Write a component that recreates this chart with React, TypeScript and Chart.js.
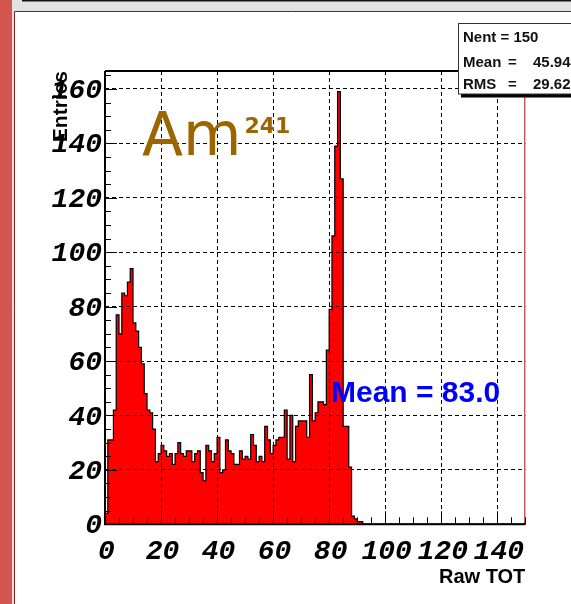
import { useEffect, useRef } from "react";
import { Chart, registerables } from "chart.js";

Chart.register(...registerables);

// Raw TOT spectrum of the Am-241 source, 1-unit bins starting at 0
const binWidth = 1;
const counts = [
  4, 31, 31, 42, 77, 70, 85, 84, 89, 94,
  74, 71, 65, 59, 48, 42, 41, 35, 23, 26,
  29, 27, 25, 26, 22, 26, 30, 26, 25, 27,
  27, 23, 26, 27, 19, 16, 29, 27, 23, 26,
  32, 19, 20, 31, 27, 26, 22, 22, 27, 24,
  25, 24, 33, 29, 23, 25, 23, 36, 31, 26,
  29, 31, 32, 32, 42, 24, 40, 23, 36, 38,
  38, 38, 32, 55, 38, 41, 45, 45, 44, 64,
  79, 106, 139, 159, 127, 36, 36, 21, 3, 2,
  1, 1,
];

const xRange = [0, 150];
const yRange = [0, 166.6];
const xTicks = [0, 20, 40, 60, 80, 100, 120, 140];
const yTicks = [0, 20, 40, 60, 80, 100, 120, 140, 160];
const minorStep = 5;

const xTitle = "Raw TOT";
const yTitle = "Entries";

const statLabels = ["Mean", "RMS"];
const statValues = ["45.94", "29.62"];
const entriesLine = "Nent = 150";

const sourceName = "Am";
const sourceMass = "241";
const peakLabel = "Mean = 83.0";

const tickFont = { family: '"Liberation Mono", monospace', size: 28, style: "italic" as const, weight: "bold" as const };

function histogramPoints() {
  const pts: { x: number; y: number }[] = [{ x: 0, y: 0 }];
  counts.forEach((c, i) => pts.push({ x: i * binWidth, y: c }));
  pts.push({ x: counts.length * binWidth, y: 0 });
  return pts;
}

const isMajor = (v: number, list: number[]) => list.some((t) => Math.abs(t - v) < 1e-6);

const decorations = {
  id: "decorations",
  beforeDraw(chart: any) {
    const { ctx, width, height } = chart;
    ctx.save();
    ctx.fillStyle = "#ffffff";
    ctx.fillRect(0, 0, width, height);
    ctx.fillStyle = "#e2e2e2";
    ctx.fillRect(0, 0, width, 11);
    ctx.fillRect(0, 0, 14, height);
    ctx.fillStyle = "#d4554f";
    ctx.fillRect(0, 0, 12, height);
    ctx.fillStyle = "#151515";
    ctx.fillRect(22, 0, width - 22, 1.5);
    ctx.strokeStyle = "#8b1a1a";
    ctx.lineWidth = 1;
    ctx.beginPath();
    ctx.moveTo(14.5, height);
    ctx.lineTo(14.5, 11.5);
    ctx.lineTo(width, 11.5);
    ctx.stroke();
    ctx.restore();
  },
  afterDraw(chart: any) {
    const { ctx } = chart;
    const { left, right, top, bottom } = chart.chartArea;
    const xs = chart.scales.x;
    const ys = chart.scales.y;
    ctx.save();

    // frame
    ctx.strokeStyle = "#b01010";
    ctx.lineWidth = 1;
    ctx.strokeRect(left + 0.5, top + 0.5, right - left - 1, bottom - top - 1);
    ctx.strokeStyle = "#000";
    ctx.lineWidth = 2;
    ctx.beginPath();
    ctx.moveTo(left, top);
    ctx.lineTo(left, bottom);
    ctx.lineTo(right, bottom);
    ctx.moveTo(left, top);
    ctx.lineTo(right - 1, top);
    ctx.stroke();

    // inward ticks
    ctx.lineWidth = 1;
    ctx.beginPath();
    for (let v = xRange[0]; v <= xRange[1] + 1e-6; v += minorStep) {
      const px = Math.round(xs.getPixelForValue(v)) + 0.5;
      const len = isMajor(v, xTicks) ? 13 : 7;
      ctx.moveTo(px, bottom);
      ctx.lineTo(px, bottom - len);
    }
    for (let v = yRange[0]; v <= yRange[1] + 1e-6; v += minorStep) {
      const py = Math.round(ys.getPixelForValue(v)) + 0.5;
      const len = isMajor(v, yTicks) ? 12 : 6;
      ctx.moveTo(left, py);
      ctx.lineTo(left + len, py);
    }
    ctx.stroke();

    // source label
    ctx.fillStyle = "#9c6500";
    ctx.textBaseline = "alphabetic";
    ctx.textAlign = "left";
    ctx.font = '60px "DejaVu Sans"';
    ctx.fillText(sourceName, 142, 155);
    const w = ctx.measureText(sourceName).width;
    ctx.font = '600 22px "DejaVu Sans"';
    ctx.fillText(sourceMass, 142 + w + 3, 133);

    // peak label
    ctx.fillStyle = "#0000ff";
    ctx.font = 'bold 30px "Liberation Sans"';
    ctx.fillText(peakLabel, 331, 402);

    // statistics box
    ctx.fillStyle = "#000";
    ctx.fillRect(461, 94, 130, 3.5);
    ctx.fillStyle = "#ffffff";
    ctx.fillRect(458.5, 23, 130, 71);
    ctx.strokeStyle = "#333";
    ctx.lineWidth = 1;
    ctx.strokeRect(458.5, 23.5, 130, 70.5);
    ctx.fillStyle = "#111";
    ctx.font = 'bold 15px "Liberation Sans"';
    ctx.fillText(entriesLine, 463, 41.5);
    const baselines = [66.5, 89];
    statLabels.forEach((n, i) => {
      ctx.fillText(n, 463, baselines[i]);
      ctx.fillText("=", 508, baselines[i]);
      ctx.fillText(statValues[i], 533, baselines[i]);
    });
    ctx.restore();
  },
};

export default function App() {
  const canvasRef = useRef<HTMLCanvasElement | null>(null);

  useEffect(() => {
    if (!canvasRef.current) return;
    const chart = new Chart(canvasRef.current, {
      type: "line",
      data: {
        datasets: [
          {
            data: histogramPoints(),
            stepped: "before",
            fill: "origin",
            backgroundColor: "#ff0000",
            borderColor: "#000000",
            borderWidth: 1.2,
            pointRadius: 0,
            tension: 0,
          },
        ],
      },
      options: {
        animation: false,
        responsive: false,
        devicePixelRatio: 1,
        events: [],
        layout: { padding: { left: 0, top: 71, right: 45.7, bottom: 0 } },
        plugins: { legend: { display: false }, tooltip: { enabled: false } },
        scales: {
          x: {
            type: "linear",
            min: xRange[0],
            max: xRange[1],
            afterBuildTicks: (s: any) => {
              s.ticks = xTicks.map((v) => ({ value: v }));
            },
            afterFit: (s: any) => {
              s.height = 79.7;
            },
            ticks: {
              autoSkip: false,
              maxRotation: 0,
              padding: 11,
              labelOffset: 1.5,
              color: "#000",
              font: tickFont,
            },
            grid: { color: "#000", lineWidth: 1, z: 1, drawTicks: false },
            border: { display: false, dash: [4, 3] },
            title: {
              display: true,
              text: xTitle,
              align: "end",
              color: "#000",
              font: { family: '"Liberation Sans"', size: 20, weight: "bold" },
              padding: { top: 0, bottom: 15 },
            },
          },
          y: {
            type: "linear",
            min: yRange[0],
            max: yRange[1],
            afterBuildTicks: (s: any) => {
              s.ticks = yTicks.map((v) => ({ value: v }));
            },
            afterFit: (s: any) => {
              s.width = 105;
            },
            ticks: {
              autoSkip: false,
              padding: 3,
              labelOffset: 2,
              color: "#000",
              font: tickFont,
            },
            grid: { color: "#000", lineWidth: 1, z: 1, drawTicks: false },
            border: { display: false, dash: [4, 3] },
            title: {
              display: true,
              text: yTitle,
              align: "end",
              color: "#000",
              font: { family: '"Liberation Sans"', size: 21, weight: "bold" },
              padding: { top: 49, bottom: 0 },
            },
          },
        },
      },
      plugins: [decorations],
    });
    return () => chart.destroy();
  }, []);

  return (
    <div style={{ position: "absolute", left: 0, top: 0, width: 571, height: 604 }}>
      <canvas ref={canvasRef} width={571} height={604} style={{ display: "block" }} />
    </div>
  );
}
